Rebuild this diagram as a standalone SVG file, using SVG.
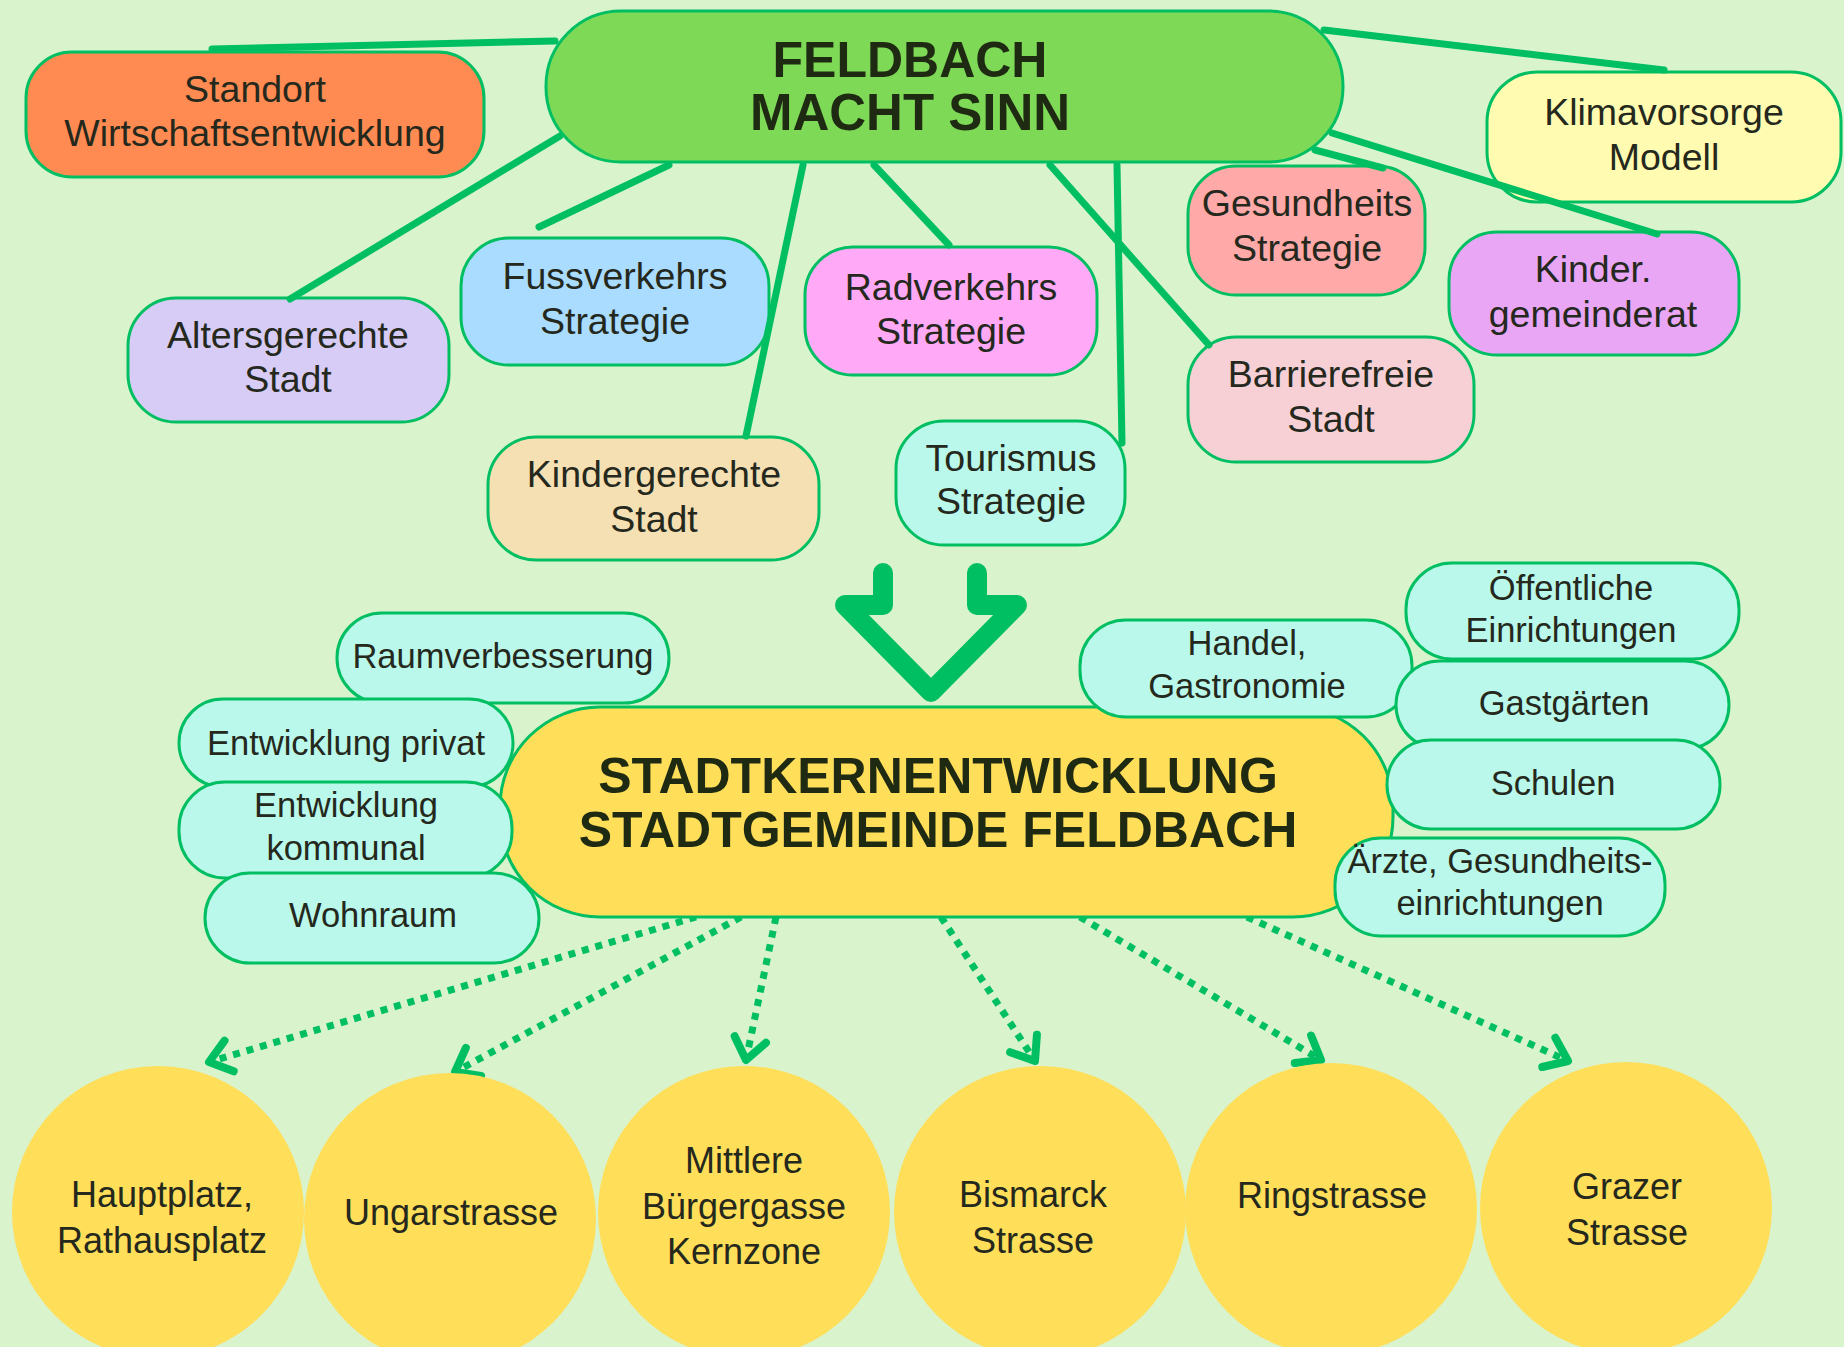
<svg xmlns="http://www.w3.org/2000/svg" width="1844" height="1347" viewBox="0 0 1844 1347">
<defs>
<style>
.n{stroke:#00bf63;stroke-width:3}
.t{font-family:"Liberation Sans",Arial,sans-serif;font-size:37.5px;fill:#25281c;text-anchor:middle}
.s{font-size:34.5px}
.r{font-size:36px}
.h{font-weight:bold;font-size:50px;fill:#1f2a12}
.c{fill:#ffde59}
.cy{fill:#b9f8ea}
.ln{stroke:#00bf63;stroke-width:7;stroke-linecap:round;fill:none}
.dt{stroke:#00bf63;stroke-width:7;stroke-dasharray:7 7;fill:none}
</style>
<marker id="ah" markerUnits="userSpaceOnUse" markerWidth="40" markerHeight="40" viewBox="-30 -20 40 40" refX="0" refY="0" orient="auto" overflow="visible">
<path d="M-21,-16 L0,0 L-21,16" fill="none" stroke="#00bf63" stroke-width="8" stroke-linecap="round" stroke-linejoin="round"/>
</marker>
</defs>
<rect width="1844" height="1347" fill="#d9f3cc"/>

<g id="feldbach">
<rect class="n" x="546" y="11" width="797" height="151" rx="75" fill="#7ed957"/>
<text class="t h" x="910" y="77">FELDBACH</text>
<text class="t h" x="910" y="130" style="font-size:51px">MACHT SINN</text>
</g>
<g id="standort">
<rect class="n" x="26" y="52" width="458" height="125" rx="46" fill="#ff8b52"/>
<text class="t" x="255" y="102">Standort</text>
<text class="t" x="255" y="146">Wirtschaftsentwicklung</text>
</g>
<g id="altersgerechte">
<rect class="n" x="128" y="298" width="321" height="124" rx="48" fill="#d7ccf6"/>
<text class="t" x="288" y="348">Altersgerechte</text>
<text class="t" x="288" y="392">Stadt</text>
</g>
<g id="fussverkehrs">
<rect class="n" x="461" y="238" width="308" height="127" rx="48" fill="#aadcff"/>
<text class="t" x="615" y="289">Fussverkehrs</text>
<text class="t" x="615" y="334">Strategie</text>
</g>
<g id="kindergerechte">
<rect class="n" x="488" y="437" width="331" height="123" rx="48" fill="#f5e0b4"/>
<text class="t" x="654" y="487">Kindergerechte</text>
<text class="t" x="654" y="532">Stadt</text>
</g>
<g id="radverkehrs">
<rect class="n" x="805" y="247" width="292" height="128" rx="48" fill="#ffa9f7"/>
<text class="t" x="951" y="300">Radverkehrs</text>
<text class="t" x="951" y="344">Strategie</text>
</g>
<g id="tourismus">
<rect class="n" x="896" y="421" width="229" height="124" rx="48" fill="#b9f8ea"/>
<text class="t" x="1011" y="471">Tourismus</text>
<text class="t" x="1011" y="514">Strategie</text>
</g>
<g id="gesundheits">
<rect class="n" x="1188" y="166" width="237" height="129" rx="48" fill="#ffa9a9"/>
<text class="t" x="1307" y="216">Gesundheits</text>
<text class="t" x="1307" y="261">Strategie</text>
</g>
<g id="barrierefreie">
<rect class="n" x="1188" y="337" width="286" height="125" rx="48" fill="#f7d0d6"/>
<text class="t" x="1331" y="387">Barrierefreie</text>
<text class="t" x="1331" y="432">Stadt</text>
</g>
<g id="klimavorsorge">
<rect class="n" x="1487" y="72" width="354" height="130" rx="50" fill="#fffbb0"/>
<text class="t" x="1664" y="125">Klimavorsorge</text>
<text class="t" x="1664" y="170">Modell</text>
</g>
<g id="kindergemeinderat">
<rect class="n" x="1449" y="232" width="290" height="123" rx="48" fill="#e8a6f5"/>
<text class="t" x="1593" y="282">Kinder.</text>
<text class="t" x="1593" y="327">gemeinderat</text>
</g>

<g id="connectors">
<line class="ln" x1="555" y1="41" x2="212" y2="49"/>
<line class="ln" x1="560" y1="136" x2="290" y2="299"/>
<line class="ln" x1="669" y1="165" x2="539" y2="227"/>
<line class="ln" x1="803" y1="165" x2="746" y2="436"/>
<line class="ln" x1="874" y1="165" x2="949" y2="245"/>
<line class="ln" x1="1050" y1="165" x2="1209" y2="345"/>
<line class="ln" x1="1117" y1="165" x2="1122" y2="443"/>
<line class="ln" x1="1315" y1="150" x2="1383" y2="168"/>
<line class="ln" x1="1332" y1="133" x2="1657" y2="234"/>
<line class="ln" x1="1324" y1="30" x2="1664" y2="70"/>
<path d="M883,573 L883,605 L845,605 L931,692 L1017,605 L977,605 L977,573" fill="none" stroke="#00bf63" stroke-width="20" stroke-linecap="round" stroke-linejoin="round"/>
<line class="dt" x1="696" y1="917" x2="209" y2="1062" marker-end="url(#ah)"/>
<line class="dt" x1="741" y1="917" x2="455" y2="1072" marker-end="url(#ah)"/>
<line class="dt" x1="776" y1="917" x2="746" y2="1060" marker-end="url(#ah)"/>
<line class="dt" x1="941" y1="917" x2="1035" y2="1061" marker-end="url(#ah)"/>
<line class="dt" x1="1080" y1="917" x2="1321" y2="1060" marker-end="url(#ah)"/>
<line class="dt" x1="1247" y1="917" x2="1568" y2="1061" marker-end="url(#ah)"/>
</g>

<g id="stadtkern">
<rect class="n" x="500" y="707" width="893" height="210" rx="100" fill="#ffde59"/>
<text class="t h" x="938" y="793">STADTKERNENTWICKLUNG</text>
<text class="t h" x="938" y="847">STADTGEMEINDE FELDBACH</text>
</g>
<g id="raumverbesserung">
<rect class="n cy" x="337" y="613" width="332" height="90" rx="45"/>
<text class="t s" x="503" y="668">Raumverbesserung</text>
</g>
<g id="entwicklung-privat">
<rect class="n cy" x="179" y="699" width="334" height="88" rx="44"/>
<text class="t s" x="346" y="755">Entwicklung privat</text>
</g>
<g id="entwicklung-kommunal">
<rect class="n cy" x="179" y="782" width="333" height="96" rx="46"/>
<text class="t s" x="346" y="817">Entwicklung</text>
<text class="t s" x="346" y="860">kommunal</text>
</g>
<g id="wohnraum">
<rect class="n cy" x="205" y="873" width="334" height="90" rx="45"/>
<text class="t s" x="373" y="927">Wohnraum</text>
</g>
<g id="handel">
<rect class="n cy" x="1080" y="620" width="332" height="97" rx="46"/>
<text class="t s" x="1247" y="655">Handel,</text>
<text class="t s" x="1247" y="698">Gastronomie</text>
</g>
<g id="oeffentliche">
<rect class="n cy" x="1406" y="563" width="333" height="96" rx="46"/>
<text class="t s" x="1571" y="600">Öffentliche</text>
<text class="t s" x="1571" y="642">Einrichtungen</text>
</g>
<g id="gastgaerten">
<rect class="n cy" x="1396" y="661" width="333" height="88" rx="44"/>
<text class="t s" x="1564" y="715">Gastgärten</text>
</g>
<g id="schulen">
<rect class="n cy" x="1387" y="740" width="333" height="89" rx="44"/>
<text class="t s" x="1553" y="795">Schulen</text>
</g>
<g id="aerzte">
<rect class="n cy" x="1335" y="838" width="330" height="98" rx="46"/>
<text class="t s" x="1500" y="873">Ärzte, Gesundheits-</text>
<text class="t s" x="1500" y="915">einrichtungen</text>
</g>

<g id="hauptplatz">
<circle class="c" cx="158" cy="1212" r="146"/>
<text class="t r" x="162" y="1207">Hauptplatz,</text>
<text class="t r" x="162" y="1253">Rathausplatz</text>
</g>
<g id="ungarstrasse">
<circle class="c" cx="450" cy="1219" r="146"/>
<text class="t r" x="451" y="1225">Ungarstrasse</text>
</g>
<g id="mittlere">
<circle class="c" cx="744" cy="1212" r="146"/>
<text class="t r" x="744" y="1173">Mittlere</text>
<text class="t r" x="744" y="1219">Bürgergasse</text>
<text class="t r" x="744" y="1264">Kernzone</text>
</g>
<g id="bismarck">
<circle class="c" cx="1040" cy="1212" r="146"/>
<text class="t r" x="1033" y="1207">Bismarck</text>
<text class="t r" x="1033" y="1253">Strasse</text>
</g>
<g id="ringstrasse">
<circle class="c" cx="1331" cy="1209" r="146"/>
<text class="t r" x="1332" y="1208">Ringstrasse</text>
</g>
<g id="grazer">
<circle class="c" cx="1626" cy="1208" r="146"/>
<text class="t r" x="1627" y="1199">Grazer</text>
<text class="t r" x="1627" y="1245">Strasse</text>
</g>
</svg>
